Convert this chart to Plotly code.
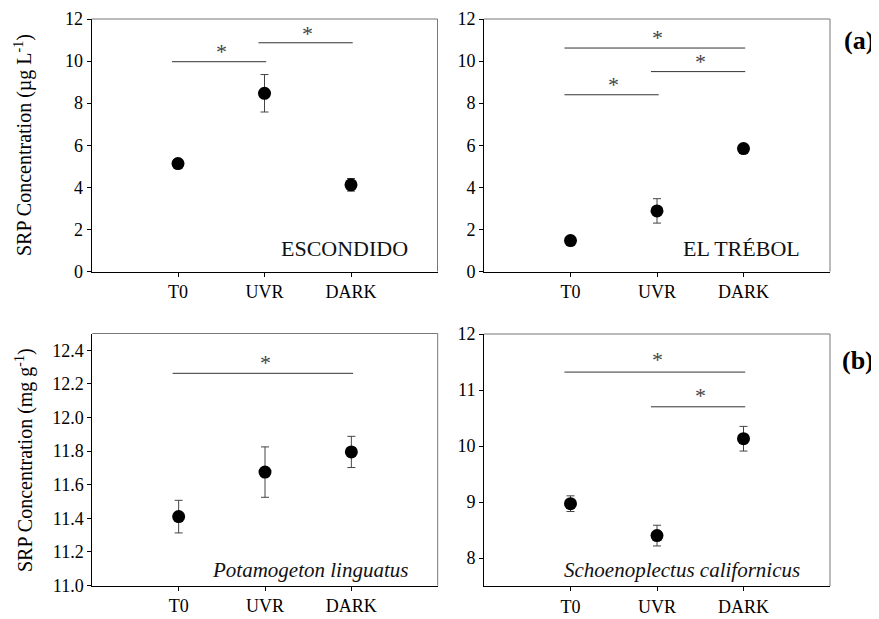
import plotly.graph_objects as go

categories = ["T0", "UVR", "DARK"]

escondido_mean = [5.13, 8.47, 4.12]
escondido_err = [0.2, 0.89, 0.3]
trebol_mean = [1.47, 2.88, 5.84]
trebol_err = [0.12, 0.58, 0.1]
potamogeton_mean = [11.41, 11.675, 11.795]
potamogeton_err = [0.097, 0.15, 0.093]
schoeno_mean = [8.97, 8.40, 10.13]
schoeno_err = [0.14, 0.185, 0.22]

# significance brackets: (panel index, from category idx, to category idx, y level, star y)
brackets = [
    (0, 0, 1, 9.97, 10.45),
    (0, 1, 2, 10.87, 11.3),
    (1, 0, 2, 10.62, 11.12),
    (1, 1, 2, 9.5, 9.98),
    (1, 0, 1, 8.4, 8.9),
    (2, 0, 2, 12.263, 12.33),
    (3, 0, 2, 11.32, 11.55),
    (3, 1, 2, 10.70, 10.9),
]

panel_names = ["ESCONDIDO", "EL TRÉBOL", "<i>Potamogeton linguatus</i>", "<i>Schoenoplectus californicus</i>"]
panel_means = [escondido_mean, trebol_mean, potamogeton_mean, schoeno_mean]
panel_errs = [escondido_err, trebol_err, potamogeton_err, schoeno_err]
y_ranges = [[0, 12], [0, 12], [11.0, 12.5], [7.5, 12]]
y_dticks = [2, 2, 0.2, 1]
y_tickformats = ["d", "d", ".1f", "d"]

W, H = 879, 619
OFF = 8  # page body margin offset of the figure


def fx(px):
    return (px - OFF) / W


def fy(py):
    return 1 - (py - OFF) / H


# pixel boxes on the page (left, right, top, bottom)
boxes = [(91.5, 437.5, 19, 271.5), (484, 830, 19, 271.5),
         (92.3, 437.7, 333.5, 585.5), (484, 830, 334, 586)]

FONT = "Liberation Serif"
fig = go.Figure()
shapes = []
annotations = []

for i in range(4):
    l, r, t, b = boxes[i]
    sfx = "" if i == 0 else str(i + 1)
    xa = "xaxis" + sfx
    ya = "yaxis" + sfx
    fig.add_trace(go.Scatter(
        x=categories, y=panel_means[i],
        mode="markers",
        marker=dict(color="black", size=13),
        error_y=dict(type="data", array=panel_errs[i], visible=True,
                     color="#444", thickness=1, width=4),
        xaxis="x" + sfx, yaxis="y" + sfx, showlegend=False,
    ))
    fig.layout[xa] = dict(
        domain=[fx(l), fx(r)], anchor="y" + sfx, type="category",
        categoryorder="array", categoryarray=categories, automargin=False,
        range=[-1, 3], showline=True, linecolor="black", linewidth=1,
        ticks="outside", ticklen=4, tickcolor="black", showgrid=False, zeroline=False,
        tickfont=dict(family=FONT, size=18, color="black"), fixedrange=True,
    )
    fig.layout[ya] = dict(
        domain=[fy(b), fy(t)], anchor="x" + sfx, automargin=False,
        range=y_ranges[i], dtick=y_dticks[i], tick0=y_ranges[i][0] if i != 3 else 8,
        tickformat=y_tickformats[i],
        showline=True, linecolor="black", linewidth=1,
        ticks="outside", ticklen=4, tickcolor="black", showgrid=False, zeroline=False,
        tickfont=dict(family=FONT, size=18, color="black"), fixedrange=True,
    )
    # top and right frame lines (grey)
    shapes.append(dict(type="line", xref="x" + sfx + " domain", yref="y" + sfx + " domain",
                       x0=0, x1=1, y0=1, y1=1, line=dict(color="#777", width=1)))
    shapes.append(dict(type="line", xref="x" + sfx + " domain", yref="y" + sfx + " domain",
                       x0=1, x1=1, y0=0, y1=1, line=dict(color="#777", width=1)))
    annotations.append(dict(
        text=panel_names[i], xref="x" + sfx + " domain", yref="y" + sfx + " domain",
        x=1 - 28 / (r - l), y=0.09 if i < 2 else 0.062, xanchor="right", yanchor="middle",
        showarrow=False, font=dict(family=FONT, size=22 if i < 2 else 21, color="#111"),
    ))

for (p, a, c, ylev, ystar) in brackets:
    sfx = "" if p == 0 else str(p + 1)
    shapes.append(dict(type="line", xref="x" + sfx, yref="y" + sfx,
                       x0=a - 0.07, x1=c + 0.02, y0=ylev, y1=ylev,
                       line=dict(color="#333", width=1)))
    annotations.append(dict(text="*", xref="x" + sfx, yref="y" + sfx,
                            x=(a + c) / 2, y=ystar, showarrow=False,
                            xanchor="center", yanchor="middle",
                            font=dict(family=FONT, size=22, color="#444")))

# y axis titles
annotations.append(dict(text="SRP Concentration (µg L<sup>-1</sup>)", xref="paper", yref="paper",
                        x=fx(24), y=fy(145), textangle=-90, showarrow=False,
                        xanchor="center", yanchor="middle",
                        font=dict(family=FONT, size=20, color="black")))
annotations.append(dict(text="SRP Concentration (mg g<sup>-1</sup>)", xref="paper", yref="paper",
                        x=fx(24), y=fy(460), textangle=-90, showarrow=False,
                        xanchor="center", yanchor="middle",
                        font=dict(family=FONT, size=20, color="black")))
# panel letters
annotations.append(dict(text="<b>(a)</b>", xref="paper", yref="paper", x=fx(876), y=fy(40),
                        showarrow=False, xanchor="right", yanchor="middle",
                        font=dict(family=FONT, size=26, color="black")))
annotations.append(dict(text="<b>(b)</b>", xref="paper", yref="paper", x=fx(876), y=fy(360),
                        showarrow=False, xanchor="right", yanchor="middle",
                        font=dict(family=FONT, size=26, color="black")))

fig.update_layout(
    width=W, height=H, margin=dict(l=0, r=0, t=0, b=0),
    paper_bgcolor="white", plot_bgcolor="white",
    shapes=shapes, annotations=annotations,
    font=dict(family=FONT, color="black"),
)
fig.write_html("out.html")
